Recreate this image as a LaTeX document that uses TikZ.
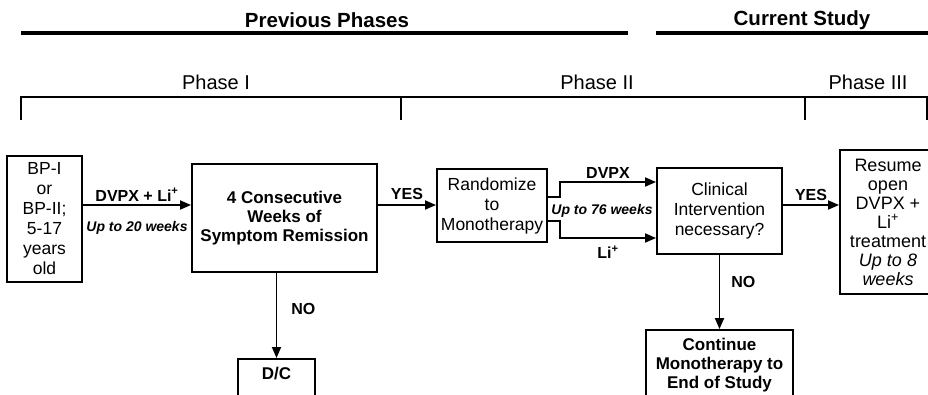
\documentclass[tikz,border=0pt]{standalone}
\usepackage{fontspec}
\setmainfont{Liberation Sans}
\usetikzlibrary{arrows.meta}

\tikzset{
    box/.style={draw, line width=1.9pt, align=center, inner sep=2pt,
        font=\fontsize{17.5}{20}\selectfont},
    boldbox/.style={box, font=\fontsize{17}{19}\selectfont\bfseries},
    lbl/.style={inner sep=2pt, font=\fontsize{16}{18}\selectfont\bfseries},
    weeks/.style={inner sep=1pt, font=\fontsize{14}{16}\selectfont\bfseries\itshape},
    head/.style={font=\fontsize{20.5}{22}\selectfont\bfseries},
    phase/.style={font=\fontsize{20}{22}\selectfont},
    arr/.style={-{Triangle[length=11pt,width=9pt]}, line width=1.8pt}
}

\begin{document}
\begin{tikzpicture}[x=1pt, y=-1pt]

\useasboundingbox (0,0) rectangle (928,394);
\clip (0,0) rectangle (928,394);

% Headings
\node[head] (prev) at (327,20) {Previous Phases};
\node[head] (curr) at (802,20) {Current Study};
\draw[line width=3.4pt] (21,33) -- (628,33);
\draw[line width=3.4pt] (656,33) -- (928,33);

% Phase bracket
\node[phase] (ph1) at (216,82) {Phase I};
\node[phase] (ph2) at (597,82) {Phase II};
\node[phase] (ph3) at (868,82) {Phase III};
\draw[line width=1.5pt] (21,120) -- (21,97) -- (927,97) -- (927,120);
\draw[line width=1.5pt] (401,97) -- (401,120);
\draw[line width=1.5pt] (805,97) -- (805,120);

% Height of the main arrows
\coordinate (mid) at (0,205);

% Boxes
\node[box,
    minimum width=75pt,
    minimum height=126pt] (bp) at (44.5,219)
    {BP-I\\or\\BP-II;\\5-17\\years\\old};

\node[boldbox,
    minimum width=185pt,
    minimum height=108pt] (remit) at (284.5,218)
    {4 Consecutive\\Weeks of\\Symptom Remission};

\node[boldbox,
    inner ysep=8pt,
    minimum width=77pt,
    anchor=north] (dc) at (276.5,358) {D/C\\\strut};

\node[box,
    minimum width=110pt,
    minimum height=73pt] (rand) at (492,205.5)
    {Randomize\\to\\Monotherapy};

\node[box,
    minimum width=125pt,
    minimum height=86pt] (clin) at (719.5,211)
    {Clinical\\Intervention\\necessary?};

\node[boldbox,
    minimum width=147pt,
    minimum height=70pt] (cont) at (719.5,365)
    {Continue\\Monotherapy to\\End of Study};

\node[box,
    font=\fontsize{18}{19}\selectfont,
    minimum width=96pt,
    minimum height=144pt] (resume) at (888,222)
    {Resume\\open\\DVPX +\\Li\textsuperscript{+}\\treatment\\\textit{Up to 8}\\\textit{weeks}};

% Connectors
\draw[arr] (bp.east |- mid) -- (remit.west |- mid)
    node[lbl, midway, above=1pt] (drug) {DVPX + Li\textsuperscript{+}}
    node[weeks, midway, below=14pt] (w20) {Up to 20 weeks};

\draw[arr] (remit.east |- mid) -- (rand.west |- mid)
    node[lbl, midway, above=2pt] (yes1) {YES};

\draw[arr] (dc.north |- remit.south) -- (dc.north)
    node[lbl, pos=0.42, right=12pt] (no1) {NO};

\draw[arr] ([yshift=8.5pt]rand.east) -- ++(12,0) |- ([yshift=29pt]clin.west)
    node[lbl, pos=0.75, above=1pt] (dvpx) {DVPX};
\draw[arr] ([yshift=-15.5pt]rand.east) -- ++(12,0) |- ([yshift=-27pt]clin.west)
    node[lbl, pos=0.75, below=5pt] (li) {Li\textsuperscript{+}};
\node[weeks] (w76) at (602,211) {Up to 76 weeks};

\draw[arr] (clin.east |- mid) -- (resume.west |- mid)
    node[lbl, midway, above=1pt] (yes2) {YES};

\draw[arr] (clin.south) -- (cont.north)
    node[lbl, pos=0.36, right=9pt] (no2) {NO};

\end{tikzpicture}
\end{document}
